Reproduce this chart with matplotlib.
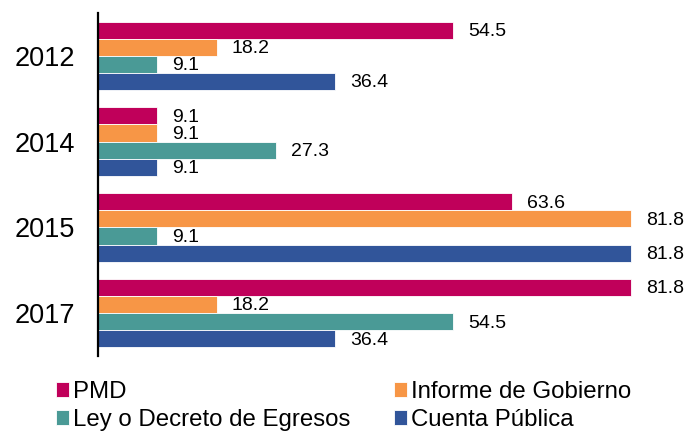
import matplotlib.pyplot as plt
import numpy as np

plt.rcParams['font.family'] = ['Liberation Sans', 'DejaVu Sans']

years = ['2012', '2014', '2015', '2017']
series = ['PMD', 'Informe de Gobierno', 'Ley o Decreto de Egresos', 'Cuenta Pública']
pmd = [54.5, 9.1, 63.6, 81.8]
informe = [18.2, 9.1, 81.8, 18.2]
ley = [9.1, 27.3, 9.1, 54.5]
cuenta = [36.4, 9.1, 81.8, 36.4]
colors = ['#C0005A', '#F79646', '#4A9A96', '#31559A']

fig = plt.figure(figsize=(6.86, 4.33), dpi=100)
ax = fig.add_axes([98 / 686, 77 / 433, 586 / 686, 343 / 433])

values = [pmd, informe, ley, cuenta]
centers = np.arange(len(years)) * 5.0
offsets = [-1.5, -0.5, 0.5, 1.5]
for vals, off, col, name in zip(values, offsets, colors, series):
    pos = centers + off
    ax.barh(pos, vals, height=1.0, color=col, edgecolor='white', linewidth=0.6, label=name)
    for p, v in zip(pos, vals):
        ax.annotate(f'{v:.1f}', xy=(v, p), xytext=(11, -1), textcoords='offset points',
                    ha='left', va='center', fontsize=14)

ax.set_ylim(centers[-1] + 2.5, -2.5)
ax.set_xlim(0, 90)
ax.set_yticks(centers)
ax.set_yticklabels(years, fontsize=19.5)
ax.tick_params(axis='y', length=0, pad=16.5)
ax.set_xticks([])
for s in ['top', 'right', 'bottom']:
    ax.spines[s].set_visible(False)
ax.spines['left'].set_linewidth(1.6)

# legend reads row-wise: PMD, Informe / Ley, Cuenta
handles, labels = ax.get_legend_handles_labels()
order = [0, 2, 1, 3]
fig.legend([handles[i] for i in order], [labels[i] for i in order],
           loc='upper left', bbox_to_anchor=(56 / 686, 1 - 381 / 433),
           ncol=2, frameon=False, fontsize=17.3, handlelength=0.55, handleheight=0.55,
           handletextpad=0.17, columnspacing=1.8, labelspacing=0.25,
           borderaxespad=0, borderpad=0)

fig.savefig('out.png', dpi=100)
